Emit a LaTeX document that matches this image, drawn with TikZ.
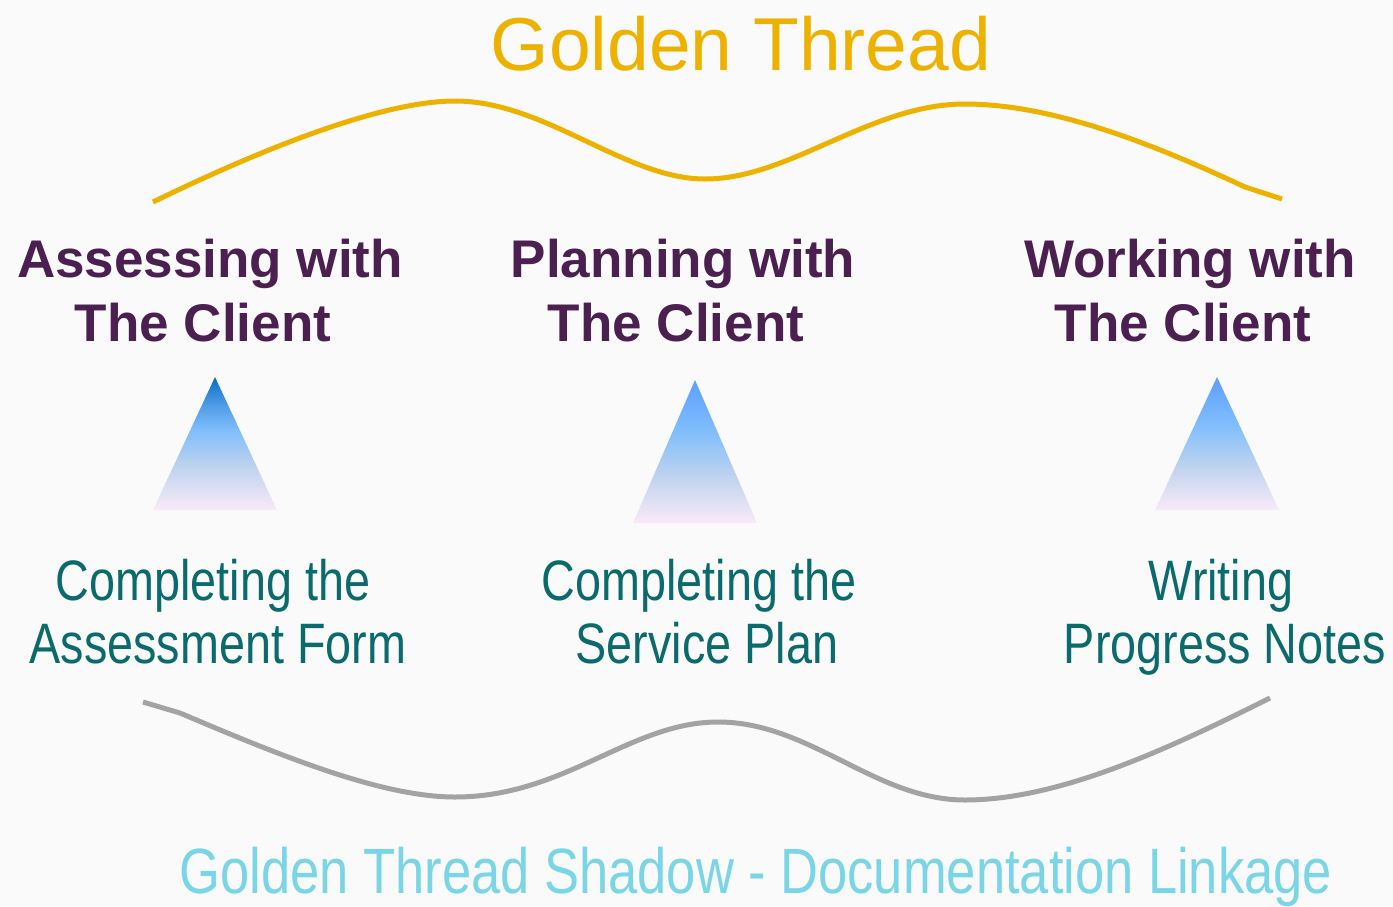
\documentclass[tikz,border=0pt]{standalone}
\usepackage{fontspec}
\setmainfont{Liberation Sans}
\newfontfamily\narrowfont[FakeStretch=0.82]{Liberation Sans}

\definecolor{bgpaper}{HTML}{FAFAFA}
\definecolor{gold}{HTML}{EDB200}
\definecolor{plum}{HTML}{4B2050}
\definecolor{teal}{HTML}{0B6A6C}
\definecolor{skyline}{HTML}{7AD6E6}
\definecolor{shadowgray}{HTML}{A3A3A3}
\definecolor{tpink}{HTML}{FAEAF8}
\definecolor{tgray}{HTML}{BCD2EE}
\definecolor{tlight}{HTML}{80BEFC}
\definecolor{tmid}{HTML}{4C9AE6}
\definecolor{tdeep}{HTML}{0A6CBE}
\definecolor{tsoft}{HTML}{5E9EFF}

% bottom-to-top fills for the three pyramids
\pgfdeclareverticalshading{pyrdeep}{100bp}{color(0bp)=(tpink); color(25bp)=(tpink);
  color(42bp)=(tgray); color(55bp)=(tlight); color(65bp)=(tmid); color(75bp)=(tdeep); color(100bp)=(tdeep)}
\pgfdeclareverticalshading{pyrsoft}{100bp}{color(0bp)=(tpink); color(25bp)=(tpink);
  color(42bp)=(tgray); color(57bp)=(tlight); color(75bp)=(tsoft); color(100bp)=(tsoft)}

\begin{document}
\begin{tikzpicture}[x=1pt,y=-1pt,
  titletext/.style={text=gold, font=\fontsize{75}{75}\selectfont, anchor=base, inner sep=0pt},
  stagetext/.style={text=plum, font=\fontsize{53}{63}\selectfont\bfseries, anchor=base, inner sep=0pt},
  tasktext/.style={text=teal, font=\narrowfont\fontsize{57}{63}\selectfont, anchor=base, inner sep=0pt},
  linktext/.style={text=skyline, font=\narrowfont\fontsize{64}{64}\selectfont, anchor=base, inner sep=0pt},
  thread/.style={line width=5pt, line join=round}
]
% paper
\fill[bgpaper] (0,0) rectangle (1393,906);
\useasboundingbox (0,0) rectangle (1393,906);

% title
\node[titletext] (title) at (741,70) {Golden Thread};

% golden thread
\coordinate (g0) at (153,202);
\coordinate (g1) at (455,101);
\coordinate (g2) at (705,179);
\coordinate (g3) at (965,104);
\coordinate (g4) at (1245,187);
\coordinate (g5) at (1282,199);
\draw[thread, gold] (g0) .. controls (270,145) and (385,101) .. (g1)
  .. controls (545,101) and (625,179) .. (g2)
  .. controls (790,179) and (870,104) .. (g3)
  .. controls (1060,104) and (1170,152) .. (g4) -- (g5);

% stages
\node[stagetext] (s1a) at (210,277) {Assessing with};
\node[stagetext] (s1b) at (203,341) {The Client};
\node[stagetext] (s2a) at (683,277) {Planning with};
\node[stagetext] (s2b) at (676,341) {The Client};
\node[stagetext] (s3a) at (1190,277) {Working with};
\node[stagetext] (s3b) at (1183,341) {The Client};

% pyramids
\coordinate (p1t) at (215,377);
\coordinate (p1l) at (153,510);
\coordinate (p1r) at (277,510);
\coordinate (p2t) at (695,380);
\coordinate (p2l) at (633,523);
\coordinate (p2r) at (757,523);
\coordinate (p3t) at (1217,377);
\coordinate (p3l) at (1155,510);
\coordinate (p3r) at (1279,510);
\shade[shading=pyrdeep] (p1t) -- (p1l) -- (p1r) -- cycle;
\shade[shading=pyrsoft] (p2t) -- (p2l) -- (p2r) -- cycle;
\shade[shading=pyrsoft] (p3t) -- (p3l) -- (p3r) -- cycle;

% documentation tasks
\node[tasktext] (t1a) at (213,600) {Completing the};
\node[tasktext] (t1b) at (218,663) {Assessment Form};
\node[tasktext] (t2a) at (699,600) {Completing the};
\node[tasktext] (t2b) at (707,663) {Service Plan};
\node[tasktext] (t3a) at (1221,600) {Writing};
\node[tasktext] (t3b) at (1225,663) {Progress Notes};

% shadow thread
\coordinate (h0) at (143,702);
\coordinate (h1) at (180,713);
\coordinate (h2) at (455,797);
\coordinate (h3) at (718,722);
\coordinate (h4) at (965,800);
\coordinate (h5) at (1270,698);
\draw[thread, shadowgray] (h0) -- (h1)
  .. controls (290,760) and (385,797) .. (h2)
  .. controls (565,797) and (630,722) .. (h3)
  .. controls (810,722) and (875,800) .. (h4)
  .. controls (1060,800) and (1170,748) .. (h5);

\node[linktext] (link) at (756,893) {Golden Thread Shadow - Documentation Linkage};
\end{tikzpicture}
\end{document}
